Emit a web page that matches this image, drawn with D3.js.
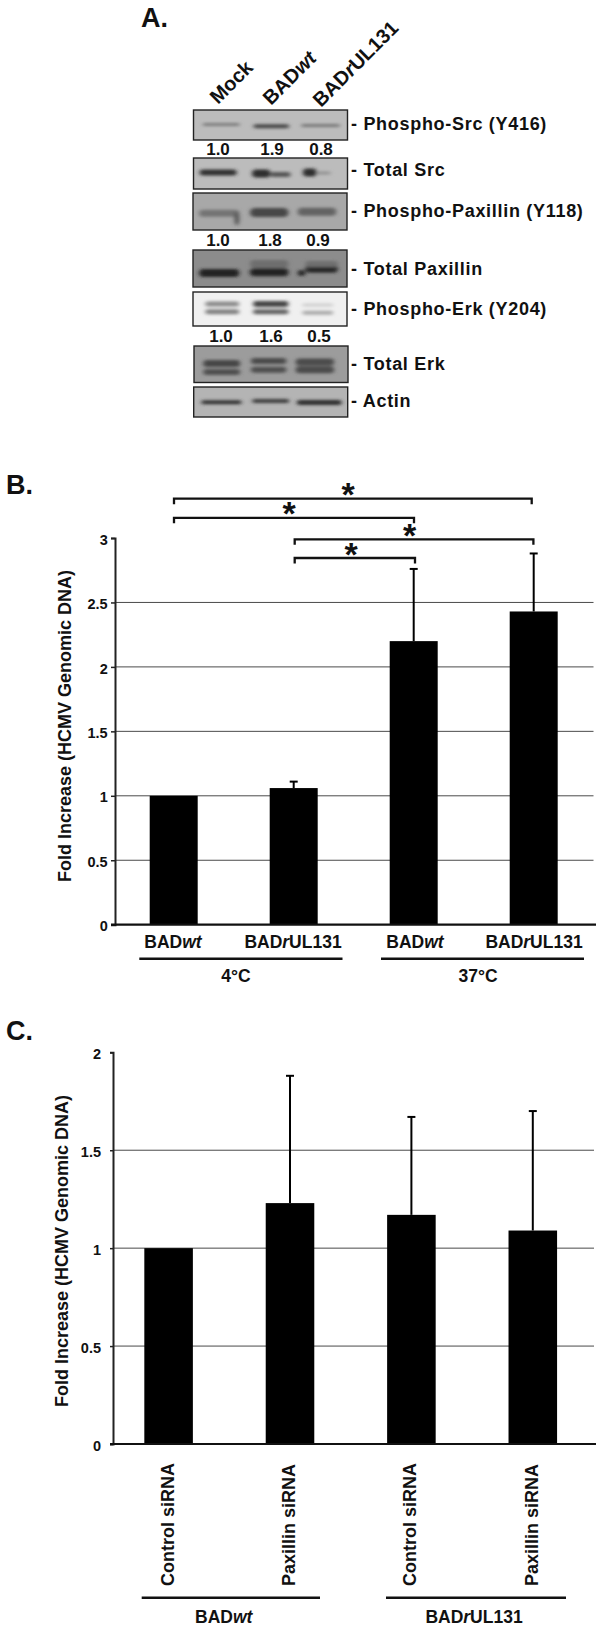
<!DOCTYPE html>
<html><head><meta charset="utf-8">
<script src="https://cdn.jsdelivr.net/npm/d3@7/dist/d3.min.js"></script>
<style>html,body{margin:0;background:#fff}svg{display:block}text{font-family:"Liberation Sans",Arial,sans-serif;font-weight:bold;fill:#111}</style>
</head><body><svg id="c" width="604" height="1631"></svg>
<script>
// Panel A data
const laneNames = [["Mock",""],["BAD","wt",""],["BAD","r","UL131"]];
const blotNames = ["Phospho-Src (Y416)","Total Src","Phospho-Paxillin (Y118)","Total Paxillin","Phospho-Erk (Y204)","Total Erk","Actin"];
const blotBackground = [188,188,168,140,240,156,180];
// band: start %, end %, height %, thickness, grey level
const bands0 = [[6,30,48,3,125],[39,62,54,4,70],[70,95,52,3,120]];
const bands1 = [[4,28,47,6,50],[38,50,50,8,45],[50,63,53,5,85],[71,80,47,8,45],[80,89,48,3,145]];
const bands2 = [[4,30,55,7,115],[27,30,69,14,80],[37,62,53,9,70],[68,93,51,8,100]];
const bands3 = [[4,30,62,8,35],[37,62,60,8,35],[68,73,62,6,40],[73,94,51,8,40],[37,62,38,8,110],[73,94,38,6,110]];
const bands4 = [[8,30,35,5,140],[8,30,58,5,130],[39,62,35,6,70],[39,62,58,5,100],[71,91,38,3,205],[71,91,61,4,170]];
const bands5 = [[6,30,48,7,70],[6,30,71,6,80],[37,60,41,6,75],[37,60,65,6,80],[66,91,44,7,75],[66,91,65,7,75]];
const bands6 = [[5,31,51,4,50],[38,62,47,4,60],[67,96,52,5,45]];
const allBands = [bands0,bands1,bands2,bands3,bands4,bands5,bands6];
const densityRows = [["1.0","1.9","0.8"],["1.0","1.8","0.9"],["1.0","1.6","0.5"]];
// Panel B data
const bCategories = ["BADwt 4","BADrUL131 4","BADwt 37","BADrUL131 37"];
const bValues = [1,1.06,2.2,2.43];
const bErrorTops = [1,1.11,2.76,2.88];
const bTicks = [0,0.5,1,1.5,2,2.5,3];
// Panel C data
const cCategories = ["Control siRNA 1","Paxillin siRNA 1","Control siRNA 2","Paxillin siRNA 2"];
const cValues = [1,1.23,1.17,1.09];
const cErrorTops = [1,1.88,1.67,1.7];
const cTicks = [0,0.5,1,1.5,2];

const svg = d3.select("#c");
const defs = svg.append("defs");
defs.append("filter").attr("id","blur").attr("x","-20%").attr("y","-100%").attr("width","140%").attr("height","300%")
  .append("feGaussianBlur").attr("stdDeviation","2 1.4");
function label(sel,x,y,size,parts,anchor,rot){
  const t=sel.append("text").attr("font-size",size).attr("text-anchor",anchor||"start");
  t.attr("transform",`translate(${x},${y})`+(rot?` rotate(${rot})`:""));
  parts.forEach((p,i)=>t.append("tspan").attr("font-style",i%2?"italic":"normal").text(p));
  return t;
}
// ---- Panel A
const A = svg.append("g");
label(A,141,27,27,["A."]);
const laneStart=[[218,105],[271,106],[321,108]];
laneNames.forEach((n,i)=>label(A,laneStart[i][0],laneStart[i][1],20,n,"start",-45));
const blotX=[193.5,193.5,193,193,193,194,193.7];
const blotY=[110,158,193,250,292,346,387];
const blotH=[30,31,37,37,34,36.5,30];
const labelBase=[130,176,217,275,314.5,370,407];
blotNames.forEach((name,i)=>{
  const w=154, g=A.append("g").attr("transform",`translate(${blotX[i]},${blotY[i]})`);
  const xs=d3.scaleLinear().domain([0,100]).range([0,w]);
  const ys=d3.scaleLinear().domain([0,100]).range([0,blotH[i]]);
  defs.append("clipPath").attr("id","cl"+i).append("rect").attr("width",w).attr("height",blotH[i]);
  const grey=v=>d3.rgb(v,v,v).formatHex();
  g.append("rect").attr("width",w).attr("height",blotH[i]).attr("fill",grey(blotBackground[i]));
  g.append("g").attr("clip-path",`url(#cl${i})`).append("g").attr("filter","url(#blur)")
   .selectAll("rect").data(allBands[i]).join("rect")
   .attr("x",d=>xs(d[0])).attr("width",d=>xs(d[1])-xs(d[0]))
   .attr("y",d=>ys(d[2])-d[3]/2).attr("height",d=>d[3]).attr("rx",d=>d[3]/2)
   .attr("fill",d=>grey(d[4]));
  g.append("rect").attr("width",w).attr("height",blotH[i]).attr("fill","none").attr("stroke","#222").attr("stroke-width",1.4);
  label(A,351,labelBase[i],18,["- "+name]).style("white-space","pre").style("letter-spacing","0.7px");
});
const rowX=[[218,272,321],[218,270,318],[221,271,319]], rowY=[155,246,342];
densityRows.forEach((r,j)=>r.forEach((s,i)=>label(A,rowX[j][i],rowY[j],17,[s],"middle")));

// ---- bar panel builder
function barPanel(o){
  const g=svg.append("g");
  const y=d3.scaleLinear().domain([0,o.max]).range([o.y0,o.y1]);
  const x=d3.scaleBand().domain(o.cats).range(o.xr).paddingInner(o.pad).paddingOuter(o.pad/2);
  g.append("g").selectAll("line").data(o.ticks.filter(t=>t>0&&t<o.max)).join("line")
    .attr("x1",o.ax).attr("x2",o.gridEnd).attr("y1",d=>y(d)).attr("y2",d=>y(d)).attr("stroke","#4a4a4a").attr("stroke-width",1);
  const cx=d=>x(d)+x.bandwidth()/2;
  const e=g.append("g").selectAll("g").data(o.cats.map((c,i)=>({c,v:o.vals[i],t:o.tops[i]})).filter(d=>d.t>d.v)).join("g");
  e.append("line").attr("x1",d=>cx(d.c)).attr("x2",d=>cx(d.c)).attr("y1",d=>y(d.v)).attr("y2",d=>y(d.t)).attr("stroke","#000").attr("stroke-width",2);
  e.append("line").attr("x1",d=>cx(d.c)-4).attr("x2",d=>cx(d.c)+4).attr("y1",d=>y(d.t)).attr("y2",d=>y(d.t)).attr("stroke","#000").attr("stroke-width",2);
  g.append("g").selectAll("rect").data(o.cats.map((c,i)=>({c,v:o.vals[i]}))).join("rect")
    .attr("x",d=>x(d.c)).attr("width",x.bandwidth()).attr("y",d=>y(d.v)).attr("height",d=>y(0)-y(d.v)).attr("fill","#000");
  const ax=g.append("g").attr("transform",`translate(${o.ax},0)`)
    .call(d3.axisLeft(y).tickValues(o.ticks).tickSize(o.ts).tickPadding(o.tp).tickFormat(d=>d));
  ax.select(".domain").attr("stroke","#222").attr("stroke-width",2);
  ax.selectAll(".tick line").attr("stroke","#222").attr("stroke-width",1.5);
  ax.selectAll("text").attr("font-size",o.fs).attr("y",1.5).style("fill","#111");
  ax.attr("font-family",null);
  g.append("line").attr("x1",o.ax-o.ts).attr("x2",o.axEnd).attr("y1",y(0)).attr("y2",y(0)).attr("stroke","#111").attr("stroke-width",2.2);
  label(g,o.ylx,o.yly,o.ylfs,["Fold Increase (HCMV Genomic DNA)"],"middle",-90);
  return {g,x,y,cx};
}
// ---- Panel B
const B=barPanel({cats:bCategories,vals:bValues,tops:bErrorTops,ticks:bTicks,max:3,y0:924.7,y1:538,xr:[113.7,593.7],pad:0.6,ax:115,gridEnd:593.5,axEnd:596,ts:4,tp:3.3,fs:14.5,ylx:71,yly:726,ylfs:18});
label(svg,6,494,27,["B."]);
const bLabels=[["BAD","wt",""],["BAD","r","UL131"],["BAD","wt",""],["BAD","r","UL131"]];
const bLabelX=[173,293,415,534];
bLabels.forEach((p,i)=>label(B.g,bLabelX[i],948,17.5,p,"middle"));
B.g.append("g").selectAll("line").data([[139.3,342.5],[381,584]]).join("line").attr("x1",d=>d[0]).attr("x2",d=>d[1]).attr("y1",958.7).attr("y2",958.7).attr("stroke","#111").attr("stroke-width",2.4);
label(B.g,236,981.7,17.5,["4°C"],"middle"); label(B.g,478,981.7,17.5,["37°C"],"middle");
// bracket: from bar, to bar, level, star position, end nudge
const brackets=[[0,3,498.7,348,-2],[0,2,517.8,289,0.3],[1,3,539.3,409.5,-0.3],[1,2,558,351,1.3]];
const bt=d3.path;
B.g.append("g").selectAll("path").data(brackets).join("path").attr("fill","none").attr("stroke","#111").attr("stroke-width",2.3)
 .attr("d",d=>{const a=B.cx(bCategories[d[0]])+(d[0]?1:0.3),b=B.cx(bCategories[d[1]])+d[4],p=bt();p.moveTo(a,d[2]+5.5);p.lineTo(a,d[2]);p.lineTo(b,d[2]);p.lineTo(b,d[2]+5.5);return p.toString();});
brackets.forEach(d=>label(B.g,d[3],d[2]+7.5,34,["*"],"middle"));
// ---- Panel C
const C=barPanel({cats:cCategories,vals:cValues,tops:cErrorTops,ticks:cTicks,max:2,y0:1444,y1:1052.3,xr:[107.9,593.5],pad:0.6,ax:113,gridEnd:594,axEnd:596,ts:3,tp:9,fs:14.5,ylx:68,yly:1251,ylfs:18});
label(svg,6,1040,27,["C."]);
["Control siRNA","Paxillin siRNA","Control siRNA","Paxillin siRNA"].forEach((s,i)=>label(C.g,C.cx(cCategories[i])+5,1586,18,[s],"start",-90));
C.g.append("g").selectAll("line").data([[141.7,320],[386,566]]).join("line").attr("x1",d=>d[0]).attr("x2",d=>d[1]).attr("y1",1597.7).attr("y2",1597.7).attr("stroke","#111").attr("stroke-width",2.4);
label(C.g,223.7,1623.3,17.5,["BAD","wt",""],"middle"); label(C.g,474,1623.3,17.5,["BAD","r","UL131"],"middle");
</script></body></html>
